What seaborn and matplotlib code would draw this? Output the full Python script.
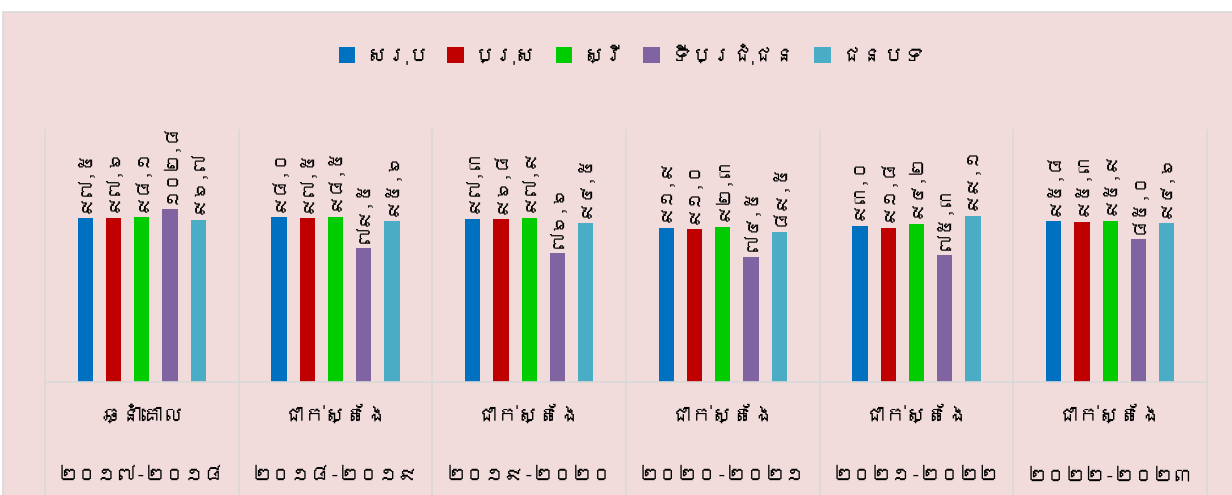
import numpy as np
import pandas as pd
import matplotlib
matplotlib.use("Agg")
import matplotlib.pyplot as plt
import seaborn as sns
from matplotlib import font_manager
from matplotlib.patches import Rectangle
from fontTools.ttLib import TTFont

# chart data
periods = ["ឆ្នាំគោល", "ជាក់ស្តែង", "ជាក់ស្តែង", "ជាក់ស្តែង", "ជាក់ស្តែង", "ជាក់ស្តែង"]
years = ["២០១៧-២០១៨", "២០១៨-២០១៩", "២០១៩-២០២០", "២០២០-២០២១", "២០២១-២០២២", "២០២២-២០២៣"]
series = ["សរុប", "ប្រុស", "ស្រី", "ទីប្រជុំជន", "ជនបទ"]
total = [97.5, 98.0, 97.3, 91.9, 93.0, 95.8]
male = [97.6, 97.5, 96.8, 91.0, 91.8, 95.3]
female = [98.1, 98.5, 97.9, 92.3, 94.2, 95.9]
urban = [102.8, 79.5, 76.6, 74.5, 75.3, 85.0]
rural = [96.7, 95.6, 94.5, 89.5, 99.1, 94.6]
colors = ["#0070C0", "#C00000", "#00CC00", "#8064A2", "#4BACC6"]


# look for a font with khmer glyphs, fall back to DejaVu
def find_khmer_font():
    for f in font_manager.fontManager.ttflist:
        try:
            cmap = TTFont(f.fname, fontNumber=0, lazy=True).getBestCmap()
            if cmap and 0x1780 in cmap:
                return f.name
        except Exception:
            pass
    return None


khmer = find_khmer_font()
plt.rcParams["font.family"] = [khmer, "DejaVu Sans"] if khmer else ["DejaVu Sans"]

# long table for seaborn
xcat = [f"{p}\n{y}" for p, y in zip(periods, years)]
df = pd.DataFrame({
    "cat": xcat * 5,
    "group": np.repeat(series, 6),
    "value": total + male + female + urban + rural,
})

khmer_digits = str.maketrans("0123456789.", "០១២៣៤៥៦៧៨៩,")

fig = plt.figure(figsize=(12.32, 4.95), dpi=100)
fig.patch.set_facecolor("white")
fig.patches.append(Rectangle((3 / 1232, -0.01), 1.0, (495 - 12) / 495 + 0.01,
                             transform=fig.transFigure, facecolor="#F2DCDB",
                             edgecolor="#D9D9D9", lw=1.2, zorder=-5))

ax = fig.add_axes([45 / 1232, 113 / 495, 1162 / 1232, 252 / 495])
ax.set_facecolor("none")

sns.barplot(data=df, x="cat", y="value", hue="group", palette=colors,
            saturation=1, width=0.728, gap=0.46, linewidth=0, ax=ax)

# value labels on top of bars
for cont, vals in zip(ax.containers, [total, male, female, urban, rural]):
    labels = [f"{v:.1f}".translate(khmer_digits) for v in vals]
    ax.bar_label(cont, labels=labels, rotation=90, padding=4, fontsize=13,
                 color="black")

ax.set_xlim(-0.5, 5.5)
ax.set_ylim(0, 150)
ax.set_yticks([])
ax.set_xticks([])
ax.set_xlabel("")
ax.set_ylabel("")
for s in ["top", "right", "left"]:
    ax.spines[s].set_visible(False)
ax.spines["bottom"].set_color("#D9D9D9")
ax.spines["bottom"].set_linewidth(1.2)

# category separators running through plot and axis area
for b in np.arange(-0.5, 6, 1):
    ax.plot([b, b], [1, -0.5], transform=ax.get_xaxis_transform(),
            color="#D9D9D9", lw=1.2, clip_on=False, zorder=0)

# two level category labels
for i in range(6):
    ax.text(i, -0.13, periods[i], transform=ax.get_xaxis_transform(),
            ha="center", va="center", fontsize=15, color="black")
    ax.text(i, -0.37, years[i], transform=ax.get_xaxis_transform(),
            ha="center", va="center", fontsize=14, color="black")

handles, labels = ax.get_legend_handles_labels()
ax.legend(handles, labels, loc="center", bbox_to_anchor=(0.505, 1.3), ncol=5,
          frameon=False, fontsize=15, handlelength=0.8, handleheight=0.8,
          columnspacing=0.9, handletextpad=0.5, labelcolor="black")

fig.savefig("out.png", dpi=100)
